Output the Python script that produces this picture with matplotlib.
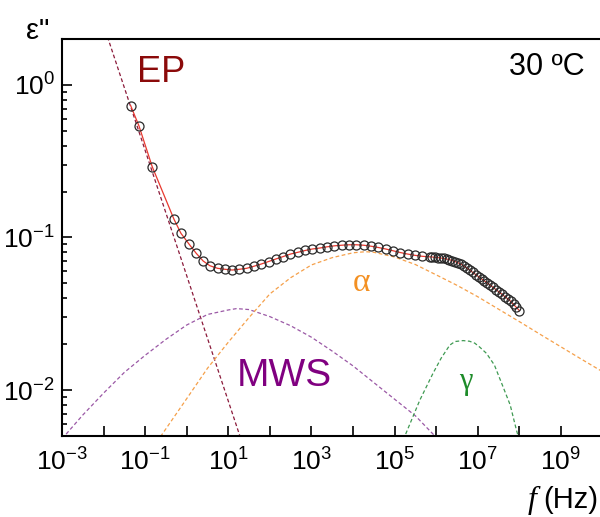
import numpy as np
import matplotlib
matplotlib.use('Agg')
import matplotlib.pyplot as plt

plt.rcParams['font.family'] = ['Liberation Sans', 'DejaVu Sans']
plt.rcParams['mathtext.default'] = 'regular'

# measured data (30 C)
freq = [0.0448, 0.071, 0.148, 0.492, 0.726, 1.13, 1.69, 2.49, 3.61, 5.53, 8.28, 12.4,
        18.3, 27.5, 41.3, 61.9, 92.9, 139, 209, 313, 470, 705, 1057, 1585, 2377, 3565,
        5346, 8017, 1.20e4, 1.80e4, 2.70e4, 4.06e4, 6.08e4, 9.12e4, 1.37e5, 2.05e5,
        3.08e5, 4.61e5, 6.92e5,
        7.94e5, 9.33e5, 1.10e6, 1.29e6, 1.51e6, 1.78e6, 2.09e6, 2.45e6, 2.88e6, 3.39e6,
        3.98e6, 4.68e6, 5.50e6, 6.46e6, 7.59e6, 8.91e6, 1.05e7, 1.23e7, 1.45e7, 1.70e7,
        2.00e7, 2.34e7, 2.75e7, 3.24e7, 3.80e7, 4.47e7, 5.25e7, 6.17e7, 7.24e7, 8.51e7, 1.00e8]
eps = [0.732, 0.539, 0.291, 0.132, 0.1065, 0.0907, 0.0788, 0.0701, 0.0653, 0.0628, 0.0619,
       0.0612, 0.0619, 0.0628, 0.0648, 0.0670, 0.0696, 0.0723, 0.0750, 0.0779, 0.0800,
       0.0822, 0.0841, 0.0853, 0.0869, 0.0882, 0.0890, 0.0896, 0.0896, 0.0890, 0.0877,
       0.0860, 0.0841, 0.0819, 0.0797, 0.0779, 0.0764, 0.0753, 0.0747,
       0.0745, 0.0742, 0.0738, 0.0734, 0.0729, 0.0723, 0.0715, 0.0706, 0.0695, 0.0682,
       0.0668, 0.0650, 0.0631, 0.0610, 0.0590, 0.0572, 0.0553, 0.0536, 0.0519, 0.0503,
       0.0487, 0.0471, 0.0455, 0.0440, 0.0425, 0.0410, 0.0396, 0.0382, 0.0364, 0.0348, 0.0332]

# fitted contributions
ep_f = [0.01, 31.6]
ep_eps = [2.47, 0.00329]

mws_f = [1e-3, 3.16e-3, 1e-2, 3.16e-2, 0.1, 0.316, 1, 3.16, 10, 15.8, 31.6, 100, 316,
         1e3, 3.16e3, 1e4, 3.16e4, 1e5, 3.16e5, 1e6]
mws_eps = [0.00479, 0.00686, 0.00955, 0.01306, 0.0169, 0.0215, 0.0267, 0.0313, 0.0335,
           0.0342, 0.0337, 0.0303, 0.0264, 0.0222, 0.0180, 0.0144, 0.0112, 0.00871,
           0.00678, 0.0049]

alpha_f = [0.158, 1, 3.16, 10, 31.6, 100, 316, 1e3, 3.16e3, 1e4, 2e4, 3.16e4, 1e5, 3.16e5,
           1e6, 3.16e6, 1e7, 3.16e7, 1e8, 3.16e8, 1e9, 3.16e9, 1e10]
alpha_eps = [0.00424, 0.00879, 0.0139, 0.0206, 0.0299, 0.0427, 0.0545, 0.0661, 0.0738,
             0.0794, 0.0807, 0.0800, 0.0745, 0.0665, 0.0569, 0.0486, 0.0409, 0.0339,
             0.0281, 0.0232, 0.0192, 0.0159, 0.0132]

gamma_f = [1.41e5, 1.76e5, 4.04e5, 8.41e5, 1.32e6, 2.12e6, 2.82e6, 4.44e6, 6.31e6, 8.47e6,
           1.12e7, 1.62e7, 2.51e7, 4.06e7, 6.03e7, 8.51e7, 1.0e8]
gamma_eps = [0.00433, 0.00499, 0.00859, 0.0129, 0.0162, 0.0197, 0.0208, 0.0211, 0.0209,
             0.0203, 0.0191, 0.0174, 0.0146, 0.0105, 0.00798, 0.00547, 0.0047]

fig = plt.figure(figsize=(6, 5.17), dpi=100)
ax = fig.add_axes([62/600, 1-436/517, 538/600, 397/517])

dash = (3, 2)
ax.plot(ep_f, ep_eps, ls='--', dashes=dash, color='#8b1a3a', lw=0.9)
ax.plot(mws_f, mws_eps, ls='--', dashes=dash, color='#9b59a6', lw=0.9)
ax.plot(alpha_f, alpha_eps, ls='--', dashes=dash, color='#f5a04a', lw=0.9)
ax.plot(gamma_f, gamma_eps, ls='--', dashes=dash, color='#3f9a52', lw=0.9)
ax.plot(freq, eps, color='#e8392f', lw=0.9)
ax.plot(freq, eps, 'o', mfc='none', mec='#2a2a2a', ms=6.5, mew=0.9)

ax.set_xscale('log')
ax.set_yscale('log')
ax.set_xlim(1e-3, 10**9.94)
ax.set_ylim(5e-3, 2.0)

xt = [10.0**k for k in range(-3, 10)]
ax.set_xticks(xt)
ax.set_xticklabels(['$10^{%d}$' % k if k % 2 else '' for k in range(-3, 10)])
ax.set_yticks([1e-2, 1e-1, 1e0])
ax.set_yticklabels(['$10^{-2}$', '$10^{-1}$', '$10^{0}$'])

for s in ['left', 'bottom', 'top']:
    ax.spines[s].set_linewidth(1.5)
ax.spines['right'].set_visible(False)
ax.tick_params(which='both', direction='in', labelsize=19, width=1.2)
ax.tick_params(which='major', length=7)
ax.tick_params(which='minor', length=3.5)
ax.tick_params(axis='x', which='both', pad=9, top=False)
ax.tick_params(axis='y', which='both', pad=5, right=False)

fig.text(137/600, 1-73/517, 'EP', color='#8b0a0a', fontsize=26, ha='left', va='center')
fig.text(585/600, 1-67/517, '30 ºC', color='black', fontsize=22, ha='right', va='center')
fig.text(237/600, 1-376/517, 'MWS', color='#800080', fontsize=28, ha='left', va='center')
fig.text(361/600, 1-283/517, 'α', color='#f39022', fontsize=24, ha='center', va='center',
         family=['Liberation Serif', 'DejaVu Serif'])
fig.text(466/600, 1-382/517, 'γ', color='#1e8c2a', fontsize=22, ha='center', va='center',
         family=['Liberation Serif', 'DejaVu Serif'])
fig.text(38/600, 1-31/517, 'ε"', color='black', fontsize=21, ha='center', va='center')
fig.text(598/600, 1-500/517, '(Hz)', color='black', fontsize=21, ha='right', va='center')
fig.text(537/600, 1-500/517, 'f', color='black', fontsize=23, ha='right', va='center',
         family=['Liberation Serif'], style='italic')

fig.savefig('out.png', dpi=100)
